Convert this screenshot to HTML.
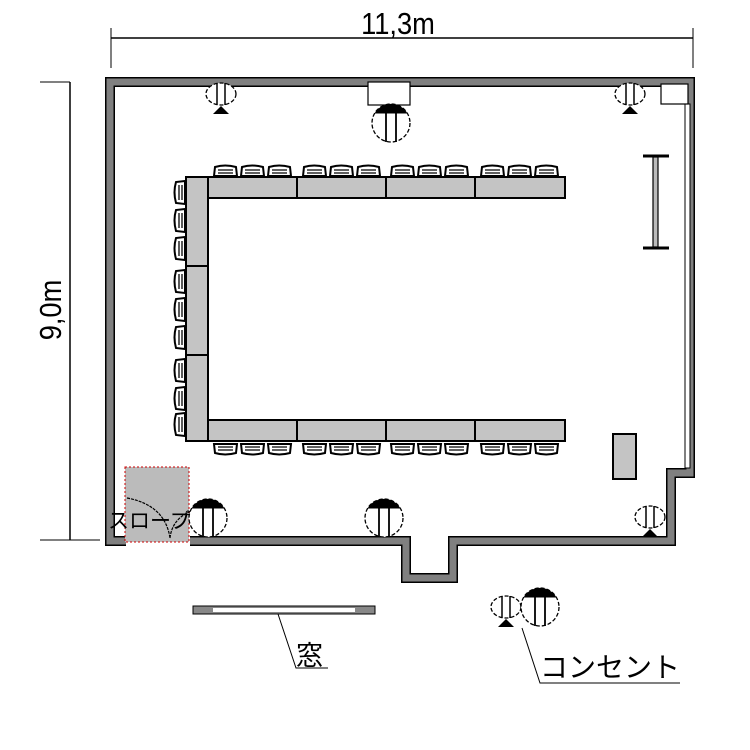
<!DOCTYPE html>
<html><head><meta charset="utf-8"><style>html,body{margin:0;padding:0;background:#fff}svg{display:block}</style></head>
<body>
<svg width="750" height="750" viewBox="0 0 750 750" xmlns="http://www.w3.org/2000/svg">
<defs>
<g id="chH"><path d="M1 11 L2 2 Q12 -1 23 2 L24 11 Z" fill="#fff" stroke="#000" stroke-width="2"/><path d="M5 5 H20 M5 8 H20" stroke="#000" stroke-width="1.3"/></g>
<g id="chV"><path d="M11 1 L2 2 Q-1 12 2 23 L11 24 Z" fill="#fff" stroke="#000" stroke-width="2"/><path d="M5 5 V20 M8 5 V20" stroke="#000" stroke-width="1.3"/></g>
<g id="sOut"><ellipse cx="0" cy="0" rx="15" ry="11" fill="#fff" stroke="#000" stroke-width="1.3" stroke-dasharray="4 2"/><line x1="-4" y1="-11" x2="-4" y2="11" stroke="#000" stroke-width="1.5"/><line x1="4" y1="-11" x2="4" y2="11" stroke="#000" stroke-width="1.5"/><path d="M-8 20 L0 12 L8 20 Z" fill="#000"/></g>
<g id="bOut"><circle cx="0" cy="0" r="19" fill="#fff" stroke="#000" stroke-width="1.3" stroke-dasharray="4 2"/><path d="M-16.5 -9.5 A19 19 0 0 1 16.5 -9.5 Z" fill="#000"/><line x1="-5" y1="-10" x2="-5" y2="19" stroke="#000" stroke-width="1.8"/><line x1="5" y1="-10" x2="5" y2="19" stroke="#000" stroke-width="1.8"/></g>
</defs>

<!-- dimensions -->
<line x1="111" y1="38" x2="693" y2="38" stroke="#000" stroke-width="1.5"/>
<line x1="111" y1="28" x2="111" y2="68" stroke="#000" stroke-width="1"/>
<line x1="693" y1="28" x2="693" y2="68" stroke="#000" stroke-width="1"/>
<text transform="translate(398,34) scale(0.88,1)" font-family="Liberation Sans, sans-serif" font-size="31" text-anchor="middle">11,3m</text>
<line x1="70" y1="82" x2="70" y2="540" stroke="#000" stroke-width="1.5"/>
<line x1="40" y1="82" x2="70" y2="82" stroke="#000" stroke-width="1"/>
<line x1="40" y1="540" x2="100" y2="540" stroke="#000" stroke-width="1"/>
<text transform="translate(61,310) rotate(-90) scale(0.88,1)" font-family="Liberation Sans, sans-serif" font-size="31" text-anchor="middle">9,0m</text>

<!-- walls -->
<path d="M126 541 H110 V82 H690 V473 H671 V541 H453 V578 H406 V541 H190" fill="none" stroke="#000" stroke-width="10" stroke-linejoin="miter"/>
<path d="M126 541 H110 V82 H690 V473 H671 V541 H453 V578 H406 V541 H190" fill="none" stroke="#808080" stroke-width="7" stroke-linejoin="miter"/>
<rect x="685" y="104" width="5" height="364" fill="#fff" stroke="#000" stroke-width="1"/>
<rect x="368" y="82" width="42" height="23" fill="#fff" stroke="#000" stroke-width="1.2"/>
<rect x="661" y="84" width="27" height="20" fill="#fff" stroke="#000" stroke-width="1.2"/>

<!-- door / slope -->
<rect x="125" y="467" width="64" height="75" fill="#bbb" stroke="#c00" stroke-width="1" stroke-dasharray="2 2"/>
<path d="M127 498 Q165 505 170 538 M170 538 Q172 520 189 512" fill="none" stroke="#000" stroke-width="1.2" stroke-dasharray="3 1"/>
<text x="108" y="528" font-family="Liberation Sans, 'Noto Sans CJK JP', sans-serif" font-size="21">スロープ</text>

<!-- tables -->
<g fill="#c4c4c4" stroke="#000" stroke-width="2">
<rect x="208" y="177" width="89" height="21"/><rect x="297" y="177" width="89" height="21"/><rect x="386" y="177" width="89" height="21"/><rect x="475" y="177" width="90" height="21"/>
<rect x="208" y="420" width="89" height="21"/><rect x="297" y="420" width="89" height="21"/><rect x="386" y="420" width="89" height="21"/><rect x="475" y="420" width="90" height="21"/>
<rect x="186" y="177" width="22" height="89"/><rect x="186" y="266" width="22" height="89"/><rect x="186" y="355" width="22" height="86"/>
<rect x="613" y="434" width="23" height="45"/>
</g>
<g>
<use href="#chH" x="213" y="165"/><use href="#chH" x="240" y="165"/><use href="#chH" x="267" y="165"/>
<use href="#chH" x="302" y="165"/><use href="#chH" x="329" y="165"/><use href="#chH" x="356" y="165"/>
<use href="#chH" x="390" y="165"/><use href="#chH" x="417" y="165"/><use href="#chH" x="444" y="165"/>
<use href="#chH" x="480" y="165"/><use href="#chH" x="507" y="165"/><use href="#chH" x="534" y="165"/>
</g>
<g transform="translate(0,898) scale(1,-1)">
<use href="#chH" x="213" y="443"/><use href="#chH" x="240" y="443"/><use href="#chH" x="267" y="443"/>
<use href="#chH" x="302" y="443"/><use href="#chH" x="329" y="443"/><use href="#chH" x="356" y="443"/>
<use href="#chH" x="390" y="443"/><use href="#chH" x="417" y="443"/><use href="#chH" x="444" y="443"/>
<use href="#chH" x="480" y="443"/><use href="#chH" x="507" y="443"/><use href="#chH" x="534" y="443"/>
</g>
<g>
<use href="#chV" x="174" y="180"/><use href="#chV" x="174" y="208"/><use href="#chV" x="174" y="236"/>
<use href="#chV" x="174" y="269"/><use href="#chV" x="174" y="297"/><use href="#chV" x="174" y="325"/>
<use href="#chV" x="174" y="358"/><use href="#chV" x="174" y="386"/><use href="#chV" x="174" y="412"/>
</g>

<!-- screen -->
<line x1="643" y1="156" x2="669" y2="156" stroke="#000" stroke-width="3"/>
<line x1="643" y1="248" x2="669" y2="248" stroke="#000" stroke-width="3"/>
<rect x="653" y="157" width="5" height="90" fill="#bbb" stroke="#000" stroke-width="1.2"/>

<!-- outlets -->
<use href="#sOut" x="221" y="94"/>
<use href="#sOut" x="630" y="94"/>
<use href="#bOut" x="391" y="123"/>
<use href="#bOut" x="208" y="518"/>
<use href="#bOut" x="384" y="518"/>
<use href="#sOut" x="650" y="517"/>
<use href="#sOut" x="506" y="607"/>
<use href="#bOut" x="540" y="607"/>

<!-- window -->
<rect x="193" y="606" width="182" height="8" fill="#888" stroke="#000" stroke-width="1"/>
<rect x="213" y="608" width="142" height="4" fill="#fff"/>
<path d="M278 614 L296 668 H328" fill="none" stroke="#000" stroke-width="1"/>
<text x="296" y="665" font-family="Liberation Sans, 'Noto Sans CJK JP', sans-serif" font-size="27">窓</text>

<!-- konsent -->
<path d="M522 628 L540 683 H680" fill="none" stroke="#000" stroke-width="1"/>
<text x="540" y="677" font-family="Liberation Sans, 'Noto Sans CJK JP', sans-serif" font-size="28">コンセント</text>
</svg>
</body></html>
